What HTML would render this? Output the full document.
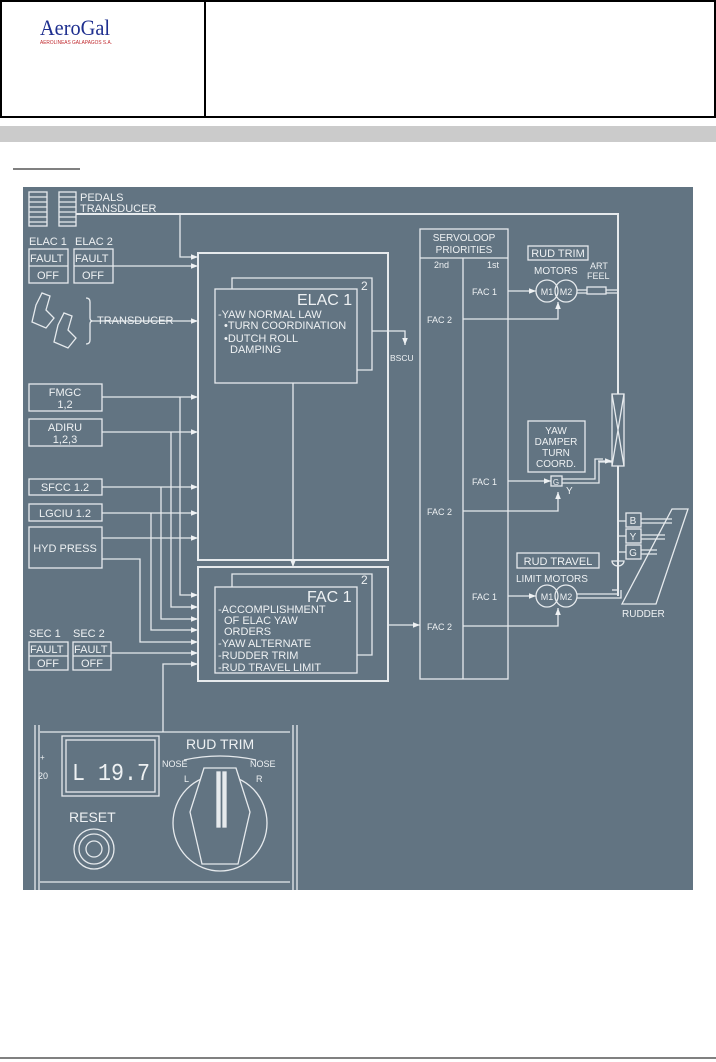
<!DOCTYPE html>
<html><head><meta charset="utf-8"><style>
html,body{margin:0;padding:0;background:#fff;}
svg{display:block;}
</style></head><body>
<svg width="716" height="1062" viewBox="0 0 716 1062" xmlns="http://www.w3.org/2000/svg" font-family="Liberation Sans, Arial, sans-serif">
<defs>
<marker id="a" viewBox="0 0 10 10" refX="10" refY="5" markerWidth="8" markerHeight="7" orient="auto" markerUnits="userSpaceOnUse"><path d="M0,1 L10,5 L0,9 z" fill="#eef1f3"/></marker>
</defs>
<!-- header -->
<rect x="1" y="1" width="714" height="116" fill="#fff" stroke="#000" stroke-width="2"/>
<line x1="205" y1="1" x2="205" y2="117" stroke="#000" stroke-width="2"/>
<text x="40" y="35" font-family="Liberation Serif, serif" font-size="22" fill="#1e2f8f" textLength="70" lengthAdjust="spacingAndGlyphs">AeroGal</text>
<text x="40" y="44" font-size="5.5" fill="#c0282d" textLength="72" lengthAdjust="spacingAndGlyphs">AEROLINEAS GALAPAGOS S.A.</text>
<rect x="0" y="126" width="716" height="16" fill="#cbcbcb"/>
<line x1="13" y1="169" x2="80" y2="169" stroke="#000" stroke-width="1"/>
<line x1="0" y1="1058" x2="716" y2="1058" stroke="#000" stroke-width="1"/>
<!-- diagram -->
<rect x="23" y="187" width="670" height="703" fill="#627482"/>
<g stroke="#e6eaed" stroke-width="1.3" fill="none">
<rect x="29" y="192" width="18" height="34"/><rect x="59" y="192" width="17" height="34"/>
<path d="M29,197h18M29,202h18M29,207h18M29,212h18M29,217h18M29,222h18M59,197h17M59,202h17M59,207h17M59,212h17M59,217h17M59,222h17"/>
<path d="M76,214 H618 V394" stroke-width="2"/>
<path d="M180,214 V257 H198" marker-end="url(#a)"/>
<rect x="29" y="249" width="39" height="34"/><line x1="29" y1="266" x2="68" y2="266"/>
<rect x="74" y="249" width="39" height="34"/><line x1="74" y1="266" x2="113" y2="266"/>
<path d="M113,266 H198" marker-end="url(#a)"/>
<path d="M36,305 l6,-12 l8,3 l-4,14 l8,8 l-8,10 l-14,-6 z M58,325 l6,-12 l8,3 l-4,14 l8,8 l-8,10 l-14,-6 z"/>
<path d="M86,298 q4,0 4,4 v16 q0,3 3,3 q-3,0 -3,3 v16 q0,4 -4,4"/>
<path d="M93,321 H198" marker-end="url(#a)"/>
<rect x="198" y="253" width="190" height="307" stroke-width="2"/>
<path d="M232,289 V278 H372 V370 H357"/>
<rect x="215" y="289" width="142" height="94"/>
<path d="M372,331 H405 V345" marker-end="url(#a)"/>
<rect x="29" y="384" width="73" height="27"/>
<rect x="29" y="419" width="73" height="27"/>
<rect x="29" y="479" width="73" height="16"/>
<rect x="29" y="504" width="73" height="17"/>
<rect x="29" y="527" width="73" height="41"/>
<path d="M102,397 H198" marker-end="url(#a)"/>
<path d="M102,432 H198" marker-end="url(#a)"/>
<path d="M102,487 H198" marker-end="url(#a)"/>
<path d="M102,513 H198" marker-end="url(#a)"/>
<path d="M102,538 H198" marker-end="url(#a)"/>
<path d="M180,397 V595 H198" marker-end="url(#a)"/>
<path d="M171,432 V607 H198" marker-end="url(#a)"/>
<path d="M161,487 V619 H198" marker-end="url(#a)"/>
<path d="M151,513 V630 H198" marker-end="url(#a)"/>
<path d="M102,559 H140 V642 H198" marker-end="url(#a)"/>
<path d="M111,653 H198" marker-end="url(#a)"/>
<path d="M163,732 V664 H198" marker-end="url(#a)"/>
<path d="M293,383 V567" marker-end="url(#a)"/>
<rect x="198" y="567" width="190" height="114" stroke-width="2"/>
<path d="M232,587 V574 H372 V655 H357"/>
<rect x="215" y="587" width="142" height="86"/>
<path d="M388,625 H420" marker-end="url(#a)"/>
<rect x="29" y="642" width="39" height="28"/><line x1="29" y1="656" x2="68" y2="656"/>
<rect x="73" y="642" width="38" height="28"/><line x1="73" y1="656" x2="111" y2="656"/>
<rect x="420" y="229" width="88" height="450"/>
<line x1="420" y1="258" x2="508" y2="258"/>
<line x1="463" y1="258" x2="463" y2="679"/>
<rect x="528" y="246" width="60" height="14"/>
<path d="M508,291 H536" marker-end="url(#a)"/>
<circle cx="547" cy="291" r="11"/><circle cx="566" cy="291" r="11"/>
<path d="M463,319 H558 V302" marker-end="url(#a)"/>
<rect x="587" y="287" width="19" height="7"/>
<path d="M577,290 H587 M577,293 H587 M606,290 H618 M606,293 H618"/>
<path d="M618,214 V394" stroke-width="2"/>
<rect x="612" y="394" width="12" height="72"/>
<path d="M612,394 L624,466 M624,394 L612,466"/>
<path d="M618,466 V596" stroke-width="2"/>
<path d="M612,590 H618"/>
<rect x="528" y="421" width="57" height="51"/>
<path d="M508,481 H551" marker-end="url(#a)"/>
<rect x="551" y="476" width="11" height="10"/>
<path d="M463,511 H558 V492" marker-end="url(#a)"/>
<path d="M562,479 H595 V459 H603 M562,483 H599 V462 H612" />
<path d="M598,461 H612" marker-end="url(#a)"/>
<rect x="626" y="513" width="15" height="14"/>
<rect x="626" y="529" width="15" height="14"/>
<rect x="626" y="545" width="15" height="14"/>
<path d="M618,521 H626 M618,536 H626 M618,552 H626 M641,519 H672 M641,523 H672 M641,535 H665 M641,539 H665 M641,550 H657 M641,554 H657"/>
<path d="M612,561 a6,5 0 0 0 12,0 z"/>
<path d="M672,509 H688 L656,604 H622 Z"/>
<rect x="517" y="553" width="82" height="15"/>
<path d="M508,596 H536" marker-end="url(#a)"/>
<circle cx="547" cy="596" r="11"/><circle cx="566" cy="596" r="11"/>
<path d="M577,594 H618 M577,598 H621 V590"/>
<path d="M463,626 H558 V608" marker-end="url(#a)"/>
<path d="M35,725 V890 M39,725 V890 M293,725 V890 M297,725 V890"/>
<path d="M40,732 H290 M40,882 H290"/>
<rect x="62" y="736" width="97" height="60"/><rect x="66" y="740" width="89" height="52"/>
<circle cx="94" cy="849" r="20"/><circle cx="94" cy="849" r="15"/><circle cx="94" cy="849" r="8"/>
<path d="M184,760 Q220,752 256,760"/>
<ellipse cx="220" cy="823" rx="47" ry="48"/>
<path d="M204,768 L190,812 L202,864 H238 L250,812 L236,768 Z" fill="#627482"/>
<rect x="217" y="772" width="3" height="55" fill="#e6eaed"/><rect x="223" y="772" width="3" height="55" fill="#e6eaed"/>
</g>
<g fill="#eef1f3" font-size="11">
<text x="80" y="201">PEDALS</text><text x="80" y="212">TRANSDUCER</text>
<text x="29" y="245">ELAC 1</text><text x="75" y="245">ELAC 2</text>
<text x="30" y="262">FAULT</text><text x="75" y="262">FAULT</text>
<text x="37" y="279">OFF</text><text x="82" y="279">OFF</text>
<text x="97" y="324">TRANSDUCER</text>
<text x="297" y="305" font-size="16">ELAC 1</text><text x="361" y="290" font-size="12">2</text>
<text x="218" y="318">-YAW NORMAL LAW</text>
<text x="224" y="329">•TURN COORDINATION</text>
<text x="224" y="342">•DUTCH ROLL</text>
<text x="230" y="353">DAMPING</text>
<text x="390" y="361" font-size="8.5">BSCU</text>
<text x="65" y="396" text-anchor="middle">FMGC</text><text x="65" y="408" text-anchor="middle">1,2</text>
<text x="65" y="431" text-anchor="middle">ADIRU</text><text x="65" y="443" text-anchor="middle">1,2,3</text>
<text x="65" y="491" text-anchor="middle">SFCC 1.2</text>
<text x="65" y="517" text-anchor="middle">LGCIU 1.2</text>
<text x="65" y="552" text-anchor="middle">HYD PRESS</text>
<text x="307" y="602" font-size="16">FAC 1</text><text x="361" y="584" font-size="12">2</text>
<text x="218" y="613">-ACCOMPLISHMENT</text>
<text x="224" y="624">OF ELAC YAW</text>
<text x="224" y="635">ORDERS</text>
<text x="218" y="647">-YAW ALTERNATE</text>
<text x="218" y="659">-RUDDER TRIM</text>
<text x="218" y="671">-RUD TRAVEL LIMIT</text>
<text x="29" y="637">SEC 1</text><text x="73" y="637">SEC 2</text>
<text x="30" y="653">FAULT</text><text x="74" y="653">FAULT</text>
<text x="37" y="667">OFF</text><text x="81" y="667">OFF</text>
<text x="464" y="241" text-anchor="middle" font-size="10">SERVOLOOP</text>
<text x="464" y="253" text-anchor="middle" font-size="10">PRIORITIES</text>
<text x="434" y="268" font-size="9">2nd</text><text x="487" y="268" font-size="9">1st</text>
<text x="472" y="295" font-size="9">FAC 1</text><text x="427" y="323" font-size="9">FAC 2</text>
<text x="472" y="485" font-size="9">FAC 1</text><text x="427" y="515" font-size="9">FAC 2</text>
<text x="472" y="600" font-size="9">FAC 1</text><text x="427" y="630" font-size="9">FAC 2</text>
<text x="558" y="257" text-anchor="middle">RUD TRIM</text>
<text x="534" y="274" font-size="10">MOTORS</text>
<text x="590" y="269" font-size="9">ART</text><text x="587" y="279" font-size="9">FEEL</text>
<text x="547" y="295" text-anchor="middle" font-size="9">M1</text><text x="566" y="295" text-anchor="middle" font-size="9">M2</text>
<text x="556" y="434" text-anchor="middle" font-size="10">YAW</text>
<text x="556" y="445" text-anchor="middle" font-size="10">DAMPER</text>
<text x="556" y="456" text-anchor="middle" font-size="10">TURN</text>
<text x="556" y="467" text-anchor="middle" font-size="10">COORD.</text>
<text x="556" y="485" text-anchor="middle" font-size="8">G</text>
<text x="566" y="494" font-size="10">Y</text>
<text x="633" y="524" text-anchor="middle" font-size="10">B</text>
<text x="633" y="540" text-anchor="middle" font-size="10">Y</text>
<text x="633" y="556" text-anchor="middle" font-size="10">G</text>
<text x="558" y="565" text-anchor="middle">RUD TRAVEL</text>
<text x="516" y="582" font-size="10">LIMIT MOTORS</text>
<text x="547" y="600" text-anchor="middle" font-size="9">M1</text><text x="566" y="600" text-anchor="middle" font-size="9">M2</text>
<text x="622" y="617" font-size="10">RUDDER</text>
<text x="40" y="760" font-size="8">+</text><text x="38" y="779" font-size="9">20</text>
<text x="72" y="780" font-size="24" font-family="Liberation Mono, monospace" textLength="78" lengthAdjust="spacingAndGlyphs">L 19.7</text>
<text x="186" y="749" font-size="14">RUD TRIM</text>
<text x="162" y="767" font-size="9">NOSE</text><text x="250" y="767" font-size="9">NOSE</text>
<text x="184" y="782" font-size="9">L</text><text x="256" y="782" font-size="9">R</text>
<text x="69" y="822" font-size="14">RESET</text>
</g>
</svg>
</body></html>
